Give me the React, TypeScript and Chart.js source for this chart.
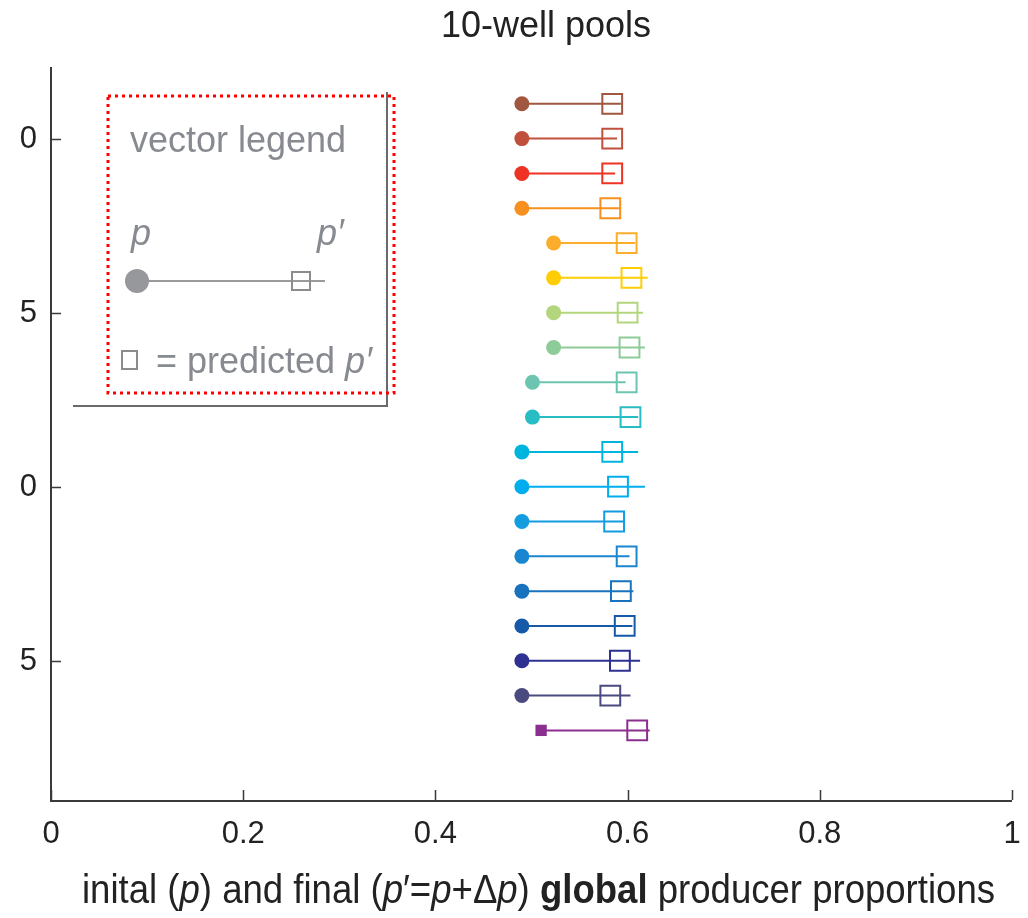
import React, { useEffect, useRef } from "react";
import { Chart, registerables } from "chart.js";

Chart.register(...registerables);

// ---- data (top to bottom) ----
const rows = [21, 20, 19, 18, 17, 16, 15, 14, 13, 12, 11, 10, 9, 8, 7, 6, 5, 4, 3];
const pInitial = [0.49, 0.49, 0.49, 0.49, 0.523, 0.523, 0.523, 0.523, 0.501, 0.501, 0.49, 0.49, 0.49, 0.49, 0.49, 0.49, 0.49, 0.49, 0.51];
const pFinal = [0.593, 0.589, 0.587, 0.592, 0.608, 0.621, 0.616, 0.618, 0.598, 0.611, 0.611, 0.618, 0.597, 0.602, 0.606, 0.605, 0.613, 0.603, 0.623];
const pPredicted = [0.584, 0.584, 0.584, 0.582, 0.599, 0.604, 0.6, 0.602, 0.599, 0.603, 0.584, 0.59, 0.586, 0.599, 0.593, 0.597, 0.592, 0.582, 0.61];
const rowColors = [
  "#a0563f", "#c0503c", "#ee3224", "#f7901e", "#fbad2b", "#ffcd05", "#b3d67d", "#8dcc98", "#6bc5b0", "#28bcc4",
  "#00b5dd", "#00aeef", "#139ce0", "#1a86cf", "#1972bd", "#1559a8", "#2e3192", "#4a4a7e", "#8b2f8f",
];
const startStyles = rows.map((r) => (r === 3 ? "rect" : "circle"));
const xTicks = [0, 0.2, 0.4, 0.6, 0.8, 1];
const xTickLabels = ["0", "0.2", "0.4", "0.6", "0.8", "1"];
const yTicks = [5, 10, 15, 20];
const yTickLabels = ["5", "10", "15", "20"];
const titleText = "10-well pools";

const FONT = "'Liberation Sans', Arial, Helvetica, sans-serif";

const overlay = {
  id: "overlay",
  afterDraw(chart: any) {
    const ctx: CanvasRenderingContext2D = chart.ctx;
    const xs = chart.scales.x;
    const ys = chart.scales.y;
    const area = chart.chartArea;
    ctx.save();
    // axes
    ctx.strokeStyle = "#3a3a3a";
    ctx.lineWidth = 2;
    ctx.beginPath();
    ctx.moveTo(area.left, area.top - 2);
    ctx.lineTo(area.left, area.bottom + 1);
    ctx.lineTo(area.right, area.bottom + 1);
    ctx.stroke();
    // ticks
    ctx.lineWidth = 1.5;
    ctx.beginPath();
    xTicks.forEach((v) => {
      const px = Math.round(xs.getPixelForValue(v)) + 0.5;
      ctx.moveTo(px, area.bottom);
      ctx.lineTo(px, area.bottom - 10);
    });
    yTicks.forEach((v) => {
      const py = Math.round(ys.getPixelForValue(v)) + 0.5;
      ctx.moveTo(area.left, py);
      ctx.lineTo(area.left + 10, py);
    });
    ctx.stroke();
    // tick labels
    ctx.fillStyle = "#222";
    ctx.font = `31px ${FONT}`;
    ctx.textAlign = "center";
    ctx.textBaseline = "alphabetic";
    xTicks.forEach((v, i) => {
      ctx.fillText(xTickLabels[i], xs.getPixelForValue(v), area.bottom + 43);
    });
    ctx.save();
    ctx.beginPath();
    ctx.rect(19, 0, 100, chart.height);
    ctx.clip();
    ctx.textAlign = "right";
    ctx.textBaseline = "middle";
    yTicks.forEach((v, i) => {
      ctx.fillText(yTickLabels[i], 37, ys.getPixelForValue(v) + 1);
    });
    ctx.restore();

    // title
    ctx.font = `36px ${FONT}`;
    ctx.textAlign = "center";
    ctx.textBaseline = "alphabetic";
    ctx.fillStyle = "#222";
    ctx.fillText(titleText, 546, 37);

    // x axis label with mixed styles
    const segs: [string, string][] = [
      ["inital (", "n"], ["p", "i"], [") and final (", "n"], ["p", "i"], ["\u2032=", "n"], ["p", "i"],
      ["+\u0394", "n"], ["p", "i"], [") ", "n"], ["global", "b"], [" producer proportions", "n"],
    ];
    const fontFor = (s: string) => (s === "i" ? `italic 40px ${FONT}` : s === "b" ? `bold 40px ${FONT}` : `40px ${FONT}`);
    let total = 0;
    segs.forEach(([t, s]) => { ctx.font = fontFor(s); total += ctx.measureText(t).width; });
    const targetW = 913;
    ctx.save();
    ctx.translate(82, 903);
    ctx.scale(targetW / total, 1);
    ctx.textAlign = "left";
    let cx = 0;
    segs.forEach(([t, s]) => {
      ctx.font = fontFor(s);
      ctx.fillText(t, cx, 0);
      cx += ctx.measureText(t).width;
    });
    ctx.restore();

    // vector legend
    ctx.strokeStyle = "#6a6a6a";
    ctx.lineWidth = 2;
    ctx.beginPath();
    ctx.moveTo(387, 92);
    ctx.lineTo(387, 406);
    ctx.lineTo(73, 406);
    ctx.stroke();

    ctx.strokeStyle = "#ff0000";
    ctx.lineWidth = 3;
    ctx.setLineDash([3, 4]);
    ctx.strokeRect(108, 96, 286, 297);
    ctx.setLineDash([]);

    const gray = "#878a90";
    ctx.fillStyle = gray;
    ctx.textAlign = "left";
    ctx.font = `36px ${FONT}`;
    ctx.fillText("vector legend", 130, 152);
    ctx.font = `italic 36px ${FONT}`;
    ctx.fillText("p", 131, 245);
    ctx.fillText("p\u2032", 317, 245);

    ctx.strokeStyle = "#9a9a9a";
    ctx.lineWidth = 2;
    ctx.beginPath();
    ctx.moveTo(137, 281);
    ctx.lineTo(325, 281);
    ctx.stroke();
    ctx.fillStyle = "#97989c";
    ctx.beginPath();
    ctx.arc(137, 281, 12, 0, Math.PI * 2);
    ctx.fill();
    ctx.strokeStyle = "#8c8c8c";
    ctx.strokeRect(292, 272, 18, 18);
    ctx.strokeRect(122, 351, 15, 18);

    ctx.fillStyle = gray;
    ctx.font = `36px ${FONT}`;
    ctx.fillText("= predicted ", 156, 373);
    const w1 = ctx.measureText("= predicted ").width;
    ctx.font = `italic 36px ${FONT}`;
    ctx.fillText("p\u2032", 156 + w1, 373);
    ctx.restore();
  },
};

export default function App() {
  const ref = useRef<HTMLCanvasElement>(null);
  useEffect(() => {
    if (!ref.current) return;
    const lineSets = rows.map((r, i) => ({
      type: "line" as const,
      data: [{ x: pInitial[i], y: r }, { x: pFinal[i], y: r }],
      borderColor: rowColors[i],
      borderWidth: 2,
      pointRadius: 0,
      showLine: true,
      fill: false,
      clip: false as any,
    }));
    const chart = new Chart(ref.current, {
      type: "scatter",
      data: {
        datasets: [
          {
            type: "scatter",
            data: rows.map((r, i) => ({ x: pInitial[i], y: r })),
            pointStyle: startStyles as any,
            pointRadius: rows.map((r) => (r === 3 ? 8 : 7.5)),
            backgroundColor: rowColors,
            borderColor: rowColors,
            borderWidth: 0,
            clip: false as any,
          },
          {
            type: "scatter",
            data: rows.map((r, i) => ({ x: pPredicted[i], y: r })),
            pointStyle: "rect",
            pointRadius: 14,
            backgroundColor: "rgba(0,0,0,0)",
            borderColor: rowColors,
            borderWidth: 2,
            clip: false as any,
          },
          ...lineSets,
        ] as any,
      },
      options: {
        responsive: false,
        animation: false,
        events: [],
        layout: { padding: { left: 51, right: 10, top: 69, bottom: 118 } },
        plugins: { legend: { display: false }, tooltip: { enabled: false }, title: { display: false } },
        scales: {
          x: { type: "linear", min: 0, max: 1, display: false },
          y: { type: "linear", min: 1, max: 22, display: false },
        },
      },
      plugins: [overlay],
    });
    return () => chart.destroy();
  }, []);
  return (
    <div style={{ position: "absolute", left: 0, top: 0, width: 1028, height: 918, background: "#fff" }}>
      <canvas ref={ref} width={1028} height={918} style={{ display: "block" }} />
    </div>
  );
}
